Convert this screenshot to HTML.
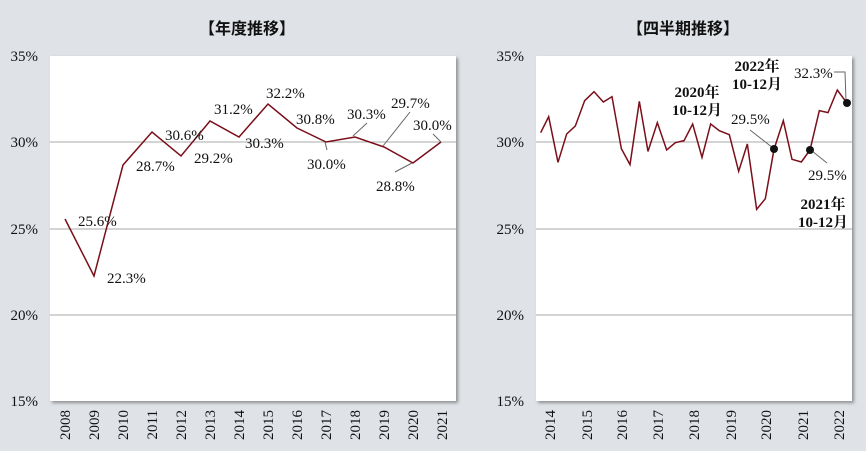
<!DOCTYPE html>
<html><head><meta charset="utf-8"><style>
html,body{margin:0;padding:0;background:#dfe3e8;}
svg{display:block;}
text{font-family:"Liberation Serif","Noto Serif CJK SC",serif;fill:#111;}
.t{font-family:"Liberation Sans","Noto Sans CJK JP",sans-serif;font-weight:bold;font-size:16px;fill:#111;}
.b{font-weight:bold;}
</style></head><body>
<svg width="866" height="451" viewBox="0 0 866 451" xmlns="http://www.w3.org/2000/svg">
<defs><filter id="sh" x="-5%" y="-5%" width="110%" height="110%"><feDropShadow dx="2" dy="2" stdDeviation="1.5" flood-color="#555" flood-opacity="0.6"/></filter></defs>
<rect width="866" height="451" fill="#dfe3e8"/>
<text class="t" x="247" y="34" text-anchor="middle">【年度推移】</text>
<text class="t" x="683" y="34" text-anchor="middle">【四半期推移】</text>
<rect x="50" y="56" width="406" height="345" fill="#fff" filter="url(#sh)"/>
<rect x="536" y="56" width="316" height="345" fill="#fff" filter="url(#sh)"/>
<g stroke="#aaa" stroke-width="1">
<line x1="50" y1="142" x2="456" y2="142"/><line x1="50" y1="229" x2="456" y2="229"/><line x1="50" y1="315" x2="456" y2="315"/>
<line x1="536" y1="142" x2="852" y2="142"/><line x1="536" y1="229" x2="852" y2="229"/><line x1="536" y1="315" x2="852" y2="315"/>
</g>
<g font-size="15" text-anchor="end">
<text x="38" y="61">35%</text><text x="38" y="147">30%</text><text x="38" y="234">25%</text><text x="38" y="320">20%</text><text x="38" y="406">15%</text>
<text x="524" y="61">35%</text><text x="524" y="147">30%</text><text x="524" y="234">25%</text><text x="524" y="320">20%</text><text x="524" y="406">15%</text>
</g>
<g font-size="15" text-anchor="end">
<text transform="translate(70,410) rotate(-90)">2008</text>
<text transform="translate(99,410) rotate(-90)">2009</text>
<text transform="translate(128,410) rotate(-90)">2010</text>
<text transform="translate(157,410) rotate(-90)">2011</text>
<text transform="translate(186,410) rotate(-90)">2012</text>
<text transform="translate(215,410) rotate(-90)">2013</text>
<text transform="translate(244,410) rotate(-90)">2014</text>
<text transform="translate(273,410) rotate(-90)">2015</text>
<text transform="translate(302,410) rotate(-90)">2016</text>
<text transform="translate(331,410) rotate(-90)">2017</text>
<text transform="translate(360,410) rotate(-90)">2018</text>
<text transform="translate(389,410) rotate(-90)">2019</text>
<text transform="translate(418,410) rotate(-90)">2020</text>
<text transform="translate(447,410) rotate(-90)">2021</text>
<text transform="translate(555,410) rotate(-90)">2014</text>
<text transform="translate(592,410) rotate(-90)">2015</text>
<text transform="translate(627,410) rotate(-90)">2016</text>
<text transform="translate(663,410) rotate(-90)">2017</text>
<text transform="translate(699,410) rotate(-90)">2018</text>
<text transform="translate(736,410) rotate(-90)">2019</text>
<text transform="translate(771,410) rotate(-90)">2020</text>
<text transform="translate(808,410) rotate(-90)">2021</text>
<text transform="translate(844,410) rotate(-90)">2022</text>
</g>
<polyline fill="none" stroke="#7a0f1a" stroke-width="1.5" points="65,219 94,276 123,165 152,132 181,156 210,121 239,137 268,104 297,128 326,142 355,137 384,147 413,163 441,142"/>
<g stroke="#666" stroke-width="1" fill="none">
<line x1="325" y1="142" x2="327" y2="150"/>
<line x1="353" y1="136" x2="367" y2="123"/>
<line x1="383" y1="146" x2="410" y2="112"/>
<line x1="441" y1="142" x2="433" y2="134"/>
<line x1="412" y1="163" x2="395" y2="172"/>
</g>
<g font-size="15">
<text x="78" y="226">25.6%</text><text x="107" y="283">22.3%</text><text x="136" y="171">28.7%</text>
<text x="165" y="140">30.6%</text><text x="194" y="163">29.2%</text><text x="214" y="114">31.2%</text>
<text x="245" y="148">30.3%</text><text x="266" y="98">32.2%</text><text x="296" y="124">30.8%</text>
<text x="307" y="169">30.0%</text><text x="347" y="119">30.3%</text><text x="391" y="108">29.7%</text>
<text x="413" y="130">30.0%</text><text x="376" y="191">28.8%</text>
</g>
<g transform="translate(460,0) scale(0.33333)">
<polyline fill="none" stroke="#7a0f1a" stroke-width="4.5" points="242,398 266,350 294,487 320,402 346,378 374,302 402,275 430,306 456,290 484,446 510,494 538,304 564,454 592,368 620,450 646,428 672,422 698,372 726,472 752,372 778,392 808,404 836,514 862,432 890,628 916,596 942,448 970,362 996,478 1024,486 1050,450 1078,332 1104,338 1132,270 1160,308"/>
</g>
<g stroke="#666" stroke-width="1" fill="none">
<line x1="750" y1="130" x2="773" y2="148"/>
<line x1="812" y1="151" x2="827" y2="163"/>
<polyline points="834,72 845,72 846,101"/>
</g>
<circle cx="774" cy="149" r="4" fill="#111"/>
<circle cx="810" cy="150" r="4" fill="#111"/>
<circle cx="847" cy="103" r="4" fill="#111"/>
<g font-size="15">
<text x="731" y="124">29.5%</text><text x="808" y="180">29.5%</text><text x="794" y="78">32.3%</text>
</g>
<g font-size="15" class="b" text-anchor="middle">
<text x="697" y="97" class="b">2020年</text><text x="697" y="115" class="b">10-12月</text>
<text x="757" y="71" class="b">2022年</text><text x="757" y="89" class="b">10-12月</text>
<text x="823" y="209" class="b">2021年</text><text x="823" y="227" class="b">10-12月</text>
</g>
</svg>
</body></html>
